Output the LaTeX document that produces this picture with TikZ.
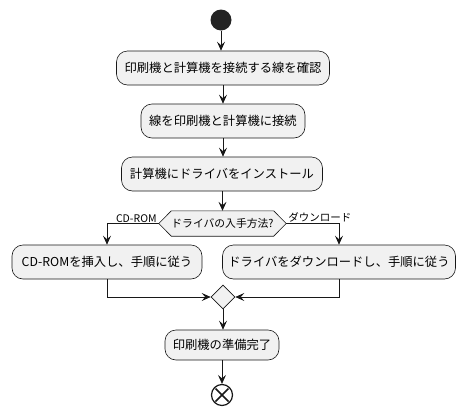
\documentclass[tikz,border=0pt]{standalone}
\usepackage{fontspec}
\setmainfont{Noto Sans CJK JP}
\usetikzlibrary{arrows.meta,calc,shapes.geometric}
\definecolor{boxfill}{HTML}{F1F1F1}
\definecolor{ink}{HTML}{181818}
\tikzset{
  actbox/.style={draw=ink, fill=boxfill, rounded corners=11pt, line width=0.6pt, minimum height=34pt, inner sep=0pt, font=\fontsize{12.3}{14}\selectfont, text=black},
  flow/.style={draw=ink, line width=0.8pt, -{Stealth[length=9pt,width=8pt,inset=3.5pt]}},
  lbl/.style={font=\fontsize{10.5}{12}\selectfont, text=black, inner sep=0pt}
}
\begin{document}
\begin{tikzpicture}[x=1pt,y=-1pt]
\useasboundingbox (0,0) rectangle (467,413);
\node[circle, fill=ink!95!white, minimum size=21pt, inner sep=0pt] (start) at (221,20) {};
\node[actbox, minimum width=213pt] (b1) at (223,68) {印刷機と計算機を接続する線を確認};
\node[actbox, minimum width=164pt] (b2) at (223,121) {線を印刷機と計算機に接続};
\node[actbox, minimum width=201pt] (b3) at (222,174) {計算機にドライバをインストール};
\node[minimum width=127pt, minimum height=25pt, inner sep=0pt, font=\fontsize{10.8}{12}\selectfont] (d) at (222.5,223.5) {};
\draw[draw=ink, fill=boxfill, line width=0.6pt] (d.west) -- ($(d.north west)+(12.5,0)$) -- ($(d.north east)+(-12.5,0)$) -- (d.east) -- ($(d.south east)+(-12.5,0)$) -- ($(d.south west)+(12.5,0)$) -- cycle;
\node[font=\fontsize{10.8}{12}\selectfont, inner sep=0pt] at (d.center) {ドライバの入手方法?};
\node[actbox, minimum width=190pt] (b4) at (107,262) {CD-ROMを挿入し、手順に従う};
\node[actbox, minimum width=233pt] (b5) at (339,262) {ドライバをダウンロードし、手順に従う};
\node[diamond, draw=ink, fill=boxfill, line width=0.6pt, minimum width=24pt, minimum height=24pt, inner sep=0pt] (m) at (223,297) {};
\node[actbox, minimum width=114pt, minimum height=30pt] (b6) at (222,345) {印刷機の準備完了};
\node[circle, draw=ink, line width=1.2pt, minimum size=21pt, inner sep=0pt] (end) at (222,395) {};
\draw[ink, line width=1.5pt] ($(end.center)+(-6.5,-6.5)$) -- ($(end.center)+(6.5,6.5)$);
\draw[ink, line width=1.5pt] ($(end.center)+(-6.5,6.5)$) -- ($(end.center)+(6.5,-6.5)$);
\draw[flow] (start) -- (start |- b1.north);
\draw[flow] (b1) -- (b1 |- b2.north);
\draw[flow] (b2) -- (b2 |- b3.north);
\draw[flow] (b3.south -| d) -- (d.north);
\draw[flow] (d.west) -| (b4.north);
\draw[flow] (d.east) -| (b5.north);
\node[lbl, anchor=south east] (l1) at ($(d.west)+(-2,-1)$) {CD-ROM};
\node[lbl, anchor=south west] (l2) at ($(d.east)+(2,-1)$) {ダウンロード};
\draw[flow] (b4.south) |- (m.west);
\draw[flow] (b5.south) |- (m.east);
\draw[flow] (m.south) -- (m |- b6.north);
\draw[flow] (b6.south -| end) -- (end.north);
\end{tikzpicture}
\end{document}
